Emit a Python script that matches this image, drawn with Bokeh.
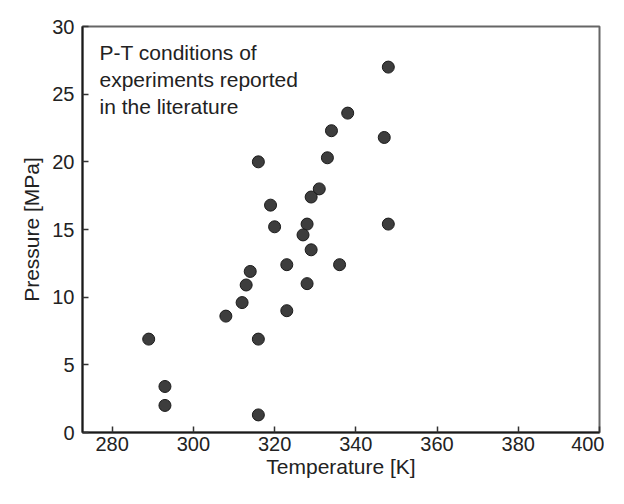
from bokeh.plotting import figure
from bokeh.models import Label, Range1d, FixedTicker, BoxAnnotation
from bokeh.embed import file_html
from bokeh.resources import INLINE

temperature_K = [348, 338, 334, 347, 316, 333, 331, 329, 319, 320, 328, 327, 348, 329,
                 323, 336, 314, 313, 328, 312, 308, 323, 289, 316, 293, 293, 316]
pressure_MPa = [27.0, 23.6, 22.3, 21.8, 20.0, 20.3, 18.0, 17.4, 16.8, 15.2, 15.4, 14.6, 15.4, 13.5,
                12.4, 12.4, 11.9, 10.9, 11.0, 9.6, 8.6, 9.0, 6.9, 6.9, 3.4, 2.0, 1.3]
x_ticks = [280, 300, 320, 340, 360, 380, 400]
y_ticks = [0, 5, 10, 15, 20, 25, 30]
note_lines = ["P-T conditions of", "experiments reported", "in the literature"]

FONT = "Liberation Sans"

p = figure(width=604, height=484, output_backend="svg", toolbar_location=None,
           x_range=Range1d(272.7, 400), y_range=Range1d(0, 30),
           min_border_left=82, min_border_right=5, min_border_top=26, min_border_bottom=52)

p.xgrid.visible = False
p.ygrid.visible = False
p.outline_line_color = "#666666"
p.outline_line_width = 2

for ax, ticks in ((p.xaxis, x_ticks), (p.yaxis, y_ticks)):
    ax.ticker = FixedTicker(ticks=ticks)
    ax.axis_line_color = "#1a1a1a"
    ax.axis_line_width = 2
    ax.major_tick_in = 6
    ax.major_tick_out = 0
    ax.minor_tick_line_color = None
    ax.major_tick_line_color = "#333333"
    ax.major_tick_line_width = 1.5
    ax.major_label_text_font = FONT
    ax.major_label_text_font_size = "20px"
    ax.major_label_text_color = "#222222"
    ax.axis_label_text_font = FONT
    ax.axis_label_text_font_size = "21px"
    ax.axis_label_text_font_style = "normal"
    ax.axis_label_text_color = "#222222"

p.xaxis.axis_label = "Temperature [K]"
p.yaxis.axis_label = "Pressure [MPa]"
p.xaxis.major_label_standoff = 4
p.yaxis.major_label_standoff = 8
p.xaxis.axis_label_standoff = 1
p.yaxis.axis_label_standoff = 6

p.scatter(temperature_K, pressure_MPa, size=12, marker="circle",
          fill_color="#3d3d3d", line_color="#1a1a1a", line_width=1)

for i, line in enumerate(note_lines):
    p.add_layout(Label(x=17, y=380 - i * 27, x_units="screen", y_units="screen",
                       text=line, text_font=FONT, text_font_size="21px",
                       text_color="#222222", text_baseline="alphabetic"))

# outer page frame (left and top edges)
for l, r, t, b in ((8, 10, 10, 484), (8, 604, 10, 12)):
    p.add_layout(BoxAnnotation(left=l, right=r, top=t, bottom=b,
                               left_units="canvas", right_units="canvas",
                               top_units="canvas", bottom_units="canvas",
                               fill_color="#111111", fill_alpha=1.0, line_color=None))

open("out.html", "w").write(file_html(p, INLINE))
